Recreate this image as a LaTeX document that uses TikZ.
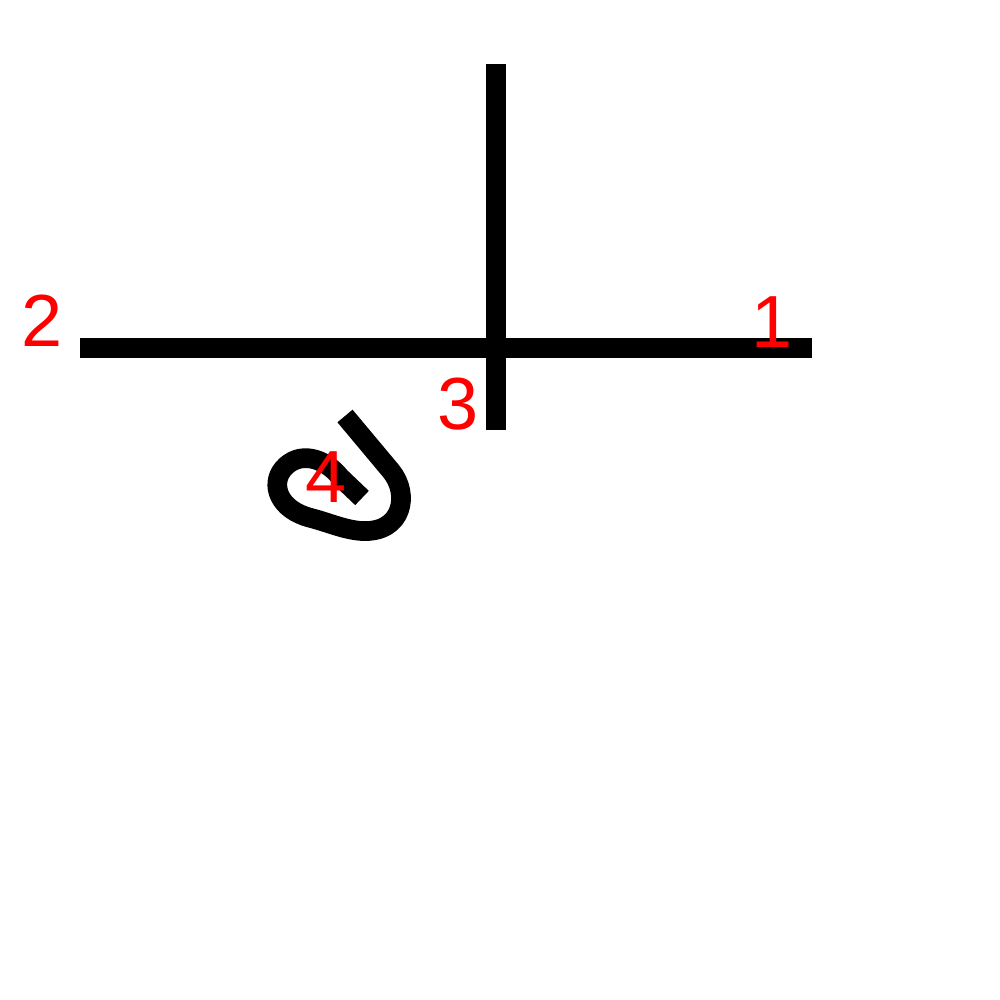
\documentclass[tikz,border=0pt]{standalone}
\usepackage{fontspec}
\setmainfont{Liberation Sans}
\begin{document}
\begin{tikzpicture}[x=0.01cm,y=-0.01cm,
  bar/.style={line width=5.6pt,black,line cap=butt},
  loopline/.style={line width=5.6pt,black,line cap=butt,line join=round},
  lbl/.style={text=red,font=\fontsize{21}{21}\selectfont,inner sep=0pt,anchor=base}]
\useasboundingbox (0,0) rectangle (1000,1000);
\draw[bar] (80,348) -- (812,348);
\draw[bar] (496,64) -- (496,430);
\draw[loopline] (345,416) -- (391,471) .. controls (410,494) and (403,533) .. (362,531)
  .. controls (345,530) and (330,523) .. (311,518)
  .. controls (279,510) and (270,485) .. (283,469)
  .. controls (299,450) and (325,458) .. (340,477) -- (362,498);
\node[lbl] (l2) at (42,346) {2};
\node[lbl] (l1) at (772,347) {1};
\node[lbl] (l3) at (458,429) {3};
\node[lbl] (l4) at (326,502) {4};
\end{tikzpicture}
\end{document}
